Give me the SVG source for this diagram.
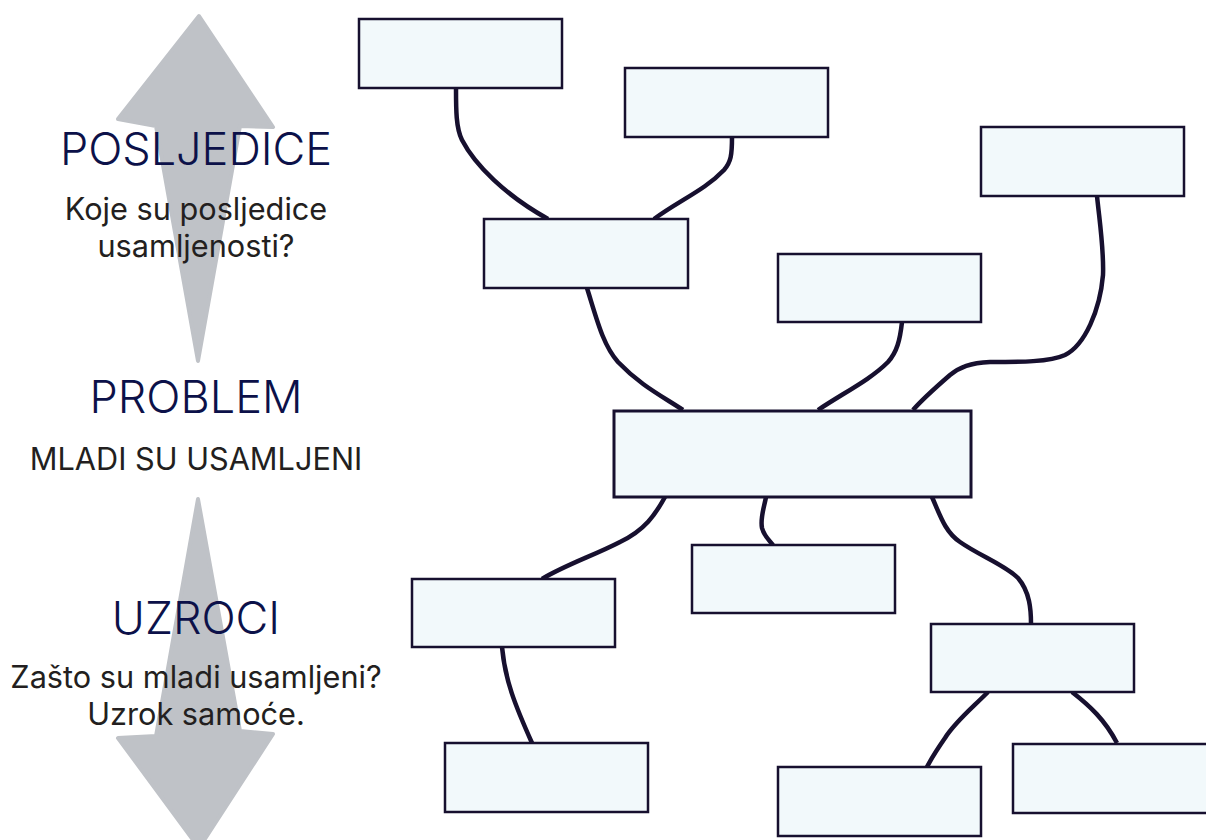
<svg xmlns="http://www.w3.org/2000/svg" width="1206" height="840" viewBox="0 0 1206 840">
  <style>
    .arrow { fill: #bfc2c7; stroke: #bfc2c7; stroke-width: 4; stroke-linejoin: round; }
    .title { font-family: Inter, "Liberation Sans", sans-serif; font-size: 45px; font-weight: 300; fill: #0c1149; text-anchor: middle; }
    .sub { font-family: Inter, "Liberation Sans", sans-serif; font-size: 30.7px; fill: #231f20; text-anchor: middle; }
    .box { fill: #f2f9fb; stroke: #17102f; stroke-width: 2.5; }
    .link { fill: none; stroke: #17102f; stroke-width: 4.5; stroke-linecap: butt; }
  </style>

  <!-- side arrows -->
  <g id="arrow-up">
    <polygon class="arrow" points="199,16 273,127 240,126 198,361 156,126 118,119"/>
  </g>
  <g id="arrow-down">
    <polygon class="arrow" points="198,499 240,731 273,734 199,848 118,738 156,736"/>
  </g>

  <!-- side labels -->
  <g id="label-consequences">
    <text class="title" x="196" y="165">POSLJEDICE</text>
    <text class="sub" x="196" y="220">Koje su posljedice</text>
    <text class="sub" x="196" y="257">usamljenosti?</text>
  </g>
  <g id="label-problem">
    <text class="title" x="196" y="413">PROBLEM</text>
    <text class="sub" x="196" y="470">MLADI SU USAMLJENI</text>
  </g>
  <g id="label-causes">
    <text class="title" x="196" y="634">UZROCI</text>
    <text class="sub" x="196" y="688">Zašto su mladi usamljeni?</text>
    <text class="sub" x="196" y="725">Uzrok samoće.</text>
  </g>

  <!-- connectors -->
  <g id="connectors">
    <path class="link" d="M456 88 C456 110 456 128 462 140 C475 165 505 195 548 219"/>
    <path class="link" d="M732 137 C732 155 731 162 724 170 C705 190 680 200 654 219"/>
    <path class="link" d="M587 288 C597 320 603 345 618 362 C640 385 660 395 683 410"/>
    <path class="link" d="M902 322 C900 340 897 352 888 362 C870 380 845 392 818 410"/>
    <path class="link" d="M1097 196 C1100 225 1104 250 1103 275 C1100 310 1085 345 1065 355 C1050 362 1020 362 990 362 C970 363 960 367 950 375 C935 388 920 402 913 410"/>
    <path class="link" d="M665 497 C655 515 645 530 620 542 C595 555 565 565 542 579"/>
    <path class="link" d="M766 497 C764 508 760 518 762 528 C764 536 769 540 773 545"/>
    <path class="link" d="M932 497 C940 515 945 532 960 542 C980 556 1005 565 1018 578 C1030 592 1031 610 1031 624"/>
    <path class="link" d="M502 647 C505 680 515 705 532 743"/>
    <path class="link" d="M988 692 C970 710 955 722 945 738 C936 751 931 759 927 767"/>
    <path class="link" d="M1072 692 C1090 706 1105 720 1117 743"/>
  </g>

  <!-- boxes -->
  <g id="node-c1"><rect class="box" x="359" y="19" width="203" height="69"/></g>
  <g id="node-c2"><rect class="box" x="625" y="68" width="203" height="69"/></g>
  <g id="node-c3"><rect class="box" x="981" y="127" width="203" height="69"/></g>
  <g id="node-c4"><rect class="box" x="484" y="219" width="204" height="69"/></g>
  <g id="node-c5"><rect class="box" x="778" y="254" width="203" height="68"/></g>
  <g id="node-problem"><rect class="box" x="614" y="411" width="357" height="86" style="stroke-width:3"/></g>
  <g id="node-u1"><rect class="box" x="692" y="545" width="203" height="68"/></g>
  <g id="node-u2"><rect class="box" x="412" y="579" width="203" height="68"/></g>
  <g id="node-u3"><rect class="box" x="931" y="624" width="203" height="68"/></g>
  <g id="node-u4"><rect class="box" x="445" y="743" width="203" height="69"/></g>
  <g id="node-u5"><rect class="box" x="778" y="767" width="203" height="69"/></g>
  <g id="node-u6"><rect class="box" x="1013" y="744" width="203" height="69"/></g>
</svg>
